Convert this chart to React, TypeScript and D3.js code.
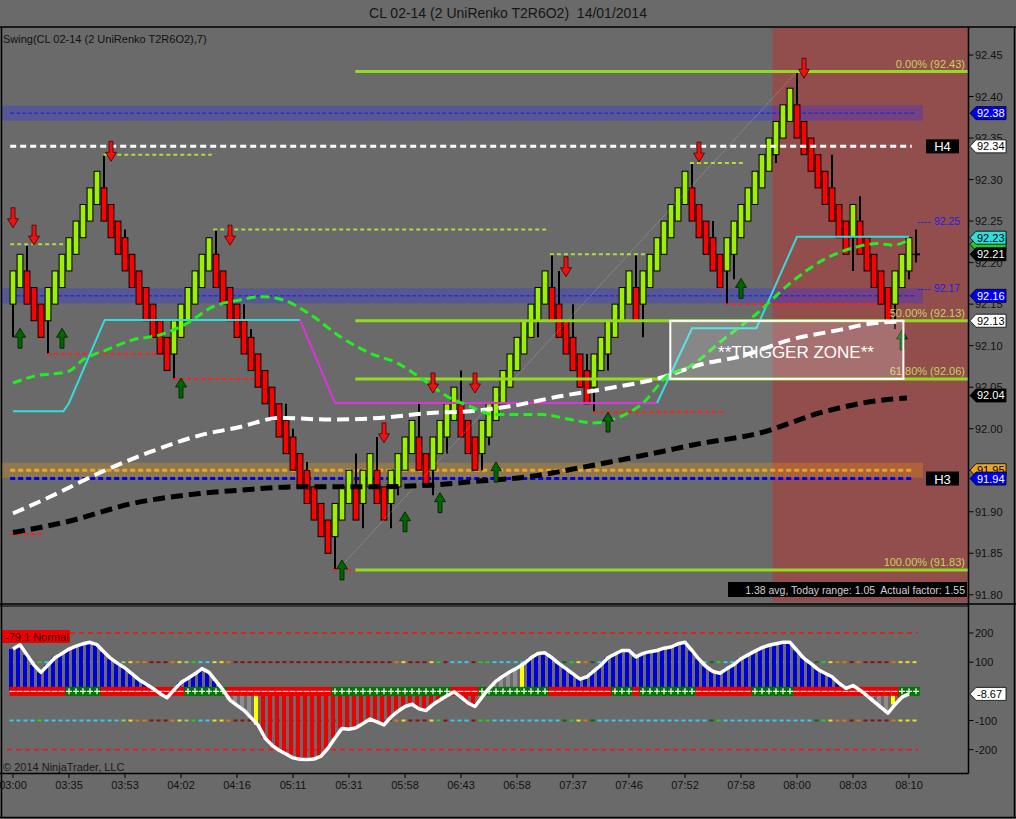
import * as d3 from 'd3'

const BG = '#6a6a6a'
const FONT = '"Liberation Sans", Arial, sans-serif'

// brick lows (each brick is 4 ticks tall), bar index = position
const brickLows = [
  92.15, 92.17, 92.15, 92.13, 92.11, 92.13, 92.15, 92.17, 92.19, 92.21,
  92.23, 92.25, 92.27, 92.25, 92.23, 92.21, 92.19, 92.17, 92.15, 92.13,
  92.11, 92.09, 92.07, 92.09, 92.11, 92.13, 92.15, 92.17, 92.19, 92.17,
  92.15, 92.13, 92.11, 92.09, 92.07, 92.05, 92.03, 92.01, 91.99, 91.97,
  91.95, 91.93, 91.91, 91.89, 91.87, 91.85, 91.87, 91.89, 91.91, 91.89,
  91.91, 91.93, 91.91, 91.89, 91.91, 91.93, 91.95, 91.97, 91.95, 91.93,
  91.95, 91.97, 91.99, 92.01, 91.99, 91.97, 91.95, 91.97, 91.99, 92.01,
  92.03, 92.05, 92.07, 92.09, 92.11, 92.13, 92.15, 92.13, 92.11, 92.09,
  92.07, 92.05, 92.03, 92.05, 92.07, 92.09, 92.11, 92.13, 92.15, 92.13,
  92.15, 92.17, 92.19, 92.21, 92.23, 92.25, 92.27, 92.25, 92.23, 92.21,
  92.19, 92.17, 92.19, 92.21, 92.23, 92.25, 92.27, 92.29, 92.31, 92.33,
  92.35, 92.37, 92.35, 92.33, 92.31, 92.29, 92.27, 92.25, 92.23, 92.21,
  92.23, 92.21, 92.19, 92.17, 92.15, 92.13, 92.15, 92.17, 92.19,
]
const BRICK = 0.04

// [bar, wick tip price]
const wickTips: [number, number][] = [
  [0, 92.11], [2, 92.22], [5, 92.09], [13, 92.33], [16, 92.24], [23, 92.06], [29, 92.24],
  [33, 92.15], [34, 92.12], [39, 92.03], [40, 92.0], [42, 91.96], [46, 91.83], [49, 91.97],
  [50, 91.88], [52, 91.99], [54, 91.88], [55, 91.92], [58, 92.03], [60, 91.92], [62, 91.97],
  [64, 92.07], [67, 91.95], [68, 91.98], [75, 92.11], [77, 92.21], [78, 92.19], [80, 92.15],
  [82, 92.09], [83, 92.02], [85, 92.07], [89, 92.21], [90, 92.11], [97, 92.32], [100, 92.25],
  [102, 92.15], [103, 92.18], [109, 92.32], [112, 92.43], [117, 92.33], [120, 92.19],
  [121, 92.28], [126, 92.12], [128, 92.18],
]
const formingBar = { bar: 129, low: 92.2, high: 92.24, close: 92.21 }

// swing lines [fromBar, toBar, price]
const swingHighs: [number, number, number][] = [
  [-0.4, 7.4, 92.222], [12.9, 28.4, 92.33], [28.6, 76.4, 92.24], [76.7, 90.6, 92.21], [96.7, 104.6, 92.32],
]
const swingLows: [number, number, number][] = [
  [-0.4, 4.4, 91.873], [4.9, 20.6, 92.09], [22.9, 34.6, 92.06], [45.7, 48.9, 91.83],
  [82.9, 101.4, 92.02], [101.7, 123.6, 92.15],
]
const downArrows: [number, number][] = [
  [0, 92.242], [3, 92.221], [14, 92.322], [31, 92.221], [53, 91.983], [60, 92.043],
  [66, 92.043], [79, 92.183], [98, 92.321], [113, 92.422],
]
const upArrows: [number, number][] = [
  [1, 92.121], [7, 92.121], [24, 92.061], [47, 91.842], [56, 91.9], [61, 91.923],
  [69, 91.96], [85, 92.02], [104, 92.181], [127, 92.119],
]

// trailing stop line
const trailUpA: [number, number][] = [[0, 92.021], [7.2, 92.021], [8, 92.031], [13.1, 92.131], [41, 92.131]]
const trailDown: [number, number][] = [[41, 92.131], [46, 92.031], [92, 92.031]]
const trailUpB: [number, number][] = [[92, 92.031], [97, 92.121], [106.2, 92.121], [112, 92.231], [128, 92.231]]

// moving averages [bar, price]
const emaFast: [number, number][] = [
  [0, 92.055], [2.9, 92.063], [7.9, 92.069], [10, 92.083], [13.4, 92.095], [17.1, 92.107],
  [21, 92.113], [24.9, 92.127], [28.6, 92.147], [32.4, 92.155], [35.6, 92.159], [38.6, 92.155],
  [42.9, 92.135], [46.7, 92.111], [51, 92.091], [54.9, 92.079], [58.6, 92.059], [62, 92.039],
  [65.3, 92.027], [68.6, 92.017], [75.7, 92.017], [79.6, 92.011], [82.9, 92.007], [86.3, 92.013],
  [90, 92.031], [93.4, 92.063], [96.7, 92.075], [101.4, 92.107], [106.3, 92.139], [111, 92.175],
  [115.7, 92.203], [120.6, 92.219], [123.4, 92.223], [125.7, 92.221], [127.9, 92.227],
]
const emaMid: [number, number][] = [
  [0, 91.898], [5.3, 91.918], [12.4, 91.947], [19.6, 91.972], [26.7, 91.992], [32.4, 92.002],
  [38.1, 92.013], [45.3, 92.011], [52.4, 92.013], [59.6, 92.019], [65.3, 92.021], [71, 92.027],
  [78.1, 92.039], [85.3, 92.049], [92.4, 92.061], [98.1, 92.077], [103.9, 92.087], [111, 92.107],
  [118.1, 92.119], [122.9, 92.127], [127.1, 92.129],
]
const emaSlow: [number, number][] = [
  [0, 91.875], [7.7, 91.888], [17.1, 91.91], [26.7, 91.922], [32.4, 91.926], [40.6, 91.93],
  [50, 91.93], [59.6, 91.932], [65.3, 91.936], [73.4, 91.942], [82.9, 91.956], [92.4, 91.972],
  [98.1, 91.982], [106.3, 91.994], [115.7, 92.02], [122.9, 92.033], [127.7, 92.037],
]

const fibLabels = ['0.00%', '50.00%', '61.80%', '100.00%']
const fibPrices = [92.43, 92.13, 92.06, 91.83]
const fibStartBar = 48.9
const fibAnchor: [number, number][] = [[46.4, 91.83], [112, 92.43]]

const bandPrices = [92.38, 92.16, 91.95]
const bandKinds = ['blue', 'blue', 'orange']
const h4Price = 92.34
const h3Price = 91.94
const pivotTexts: [number, string][] = [[92.25, '---- 92.25'], [92.17, '---- 92.17']]
const sessionStartBar = 108.5
const trigger = { from: 93.9, to: 127.2, top: 92.13, bottom: 92.06 }

const yTicks = [92.45, 92.4, 92.35, 92.3, 92.25, 92.2, 92.15, 92.1, 92.05, 92.0, 91.95, 91.9, 91.85, 91.8]
const timeLabels = ['03:00', '03:35', '03:53', '04:02', '04:16', '05:11', '05:31', '05:58', '06:43',
  '06:58', '07:37', '07:46', '07:52', '07:58', '08:00', '08:03', '08:10']

// price flags on the right axis [price, fill, text colour, label]
const flags: [number, string, string, string][] = [
  [92.38, '#0000ee', '#fff', '92.38'], [92.34, '#fff', '#000', '92.34'],
  [92.222, '#22cc22', '#000', ''], [92.23, '#33dddd', '#000', '92.23'],
  [92.21, '#000', '#fff', '92.21'], [92.16, '#0000ee', '#fff', '92.16'],
  [92.13, '#fff', '#000', '92.13'], [92.04, '#000', '#fff', '92.04'],
  [91.95, '#e8a628', '#000', '91.95'], [91.94, '#0000ee', '#fff', '91.94'],
]

// lower oscillator
const cci = [
  145, 160, 125, 90, 65, 90, 115, 130, 145, 155,
  163, 168, 160, 135, 112, 95, 80, 60, 40, 25,
  10, -8, -22, 5, 30, 45, 60, 78, 65, 35,
  5, -30, -48, -65, -90, -115, -160, -185, -202, -215,
  -228, -233, -234, -232, -222, -195, -160, -127, -130, -125,
  -110, -95, -105, -115, -88, -68, -52, -44, -60, -66,
  -45, -30, -15, -2, -20, -40, -52, -20, 10, 35,
  52, 67, 80, 95, 115, 130, 132, 115, 95, 78,
  60, 42, 50, 70, 90, 115, 128, 140, 140, 118,
  130, 136, 140, 148, 152, 163, 168, 140, 110, 85,
  68, 62, 78, 92, 112, 125, 138, 150, 158, 163,
  168, 168, 140, 113, 95, 75, 62, 50, 28, 10,
  20, 4, -15, -35, -55, -75, -45, -20, -8.67,
]
const histRuns: [number, number, string][] = [
  [0, 29, 'b'], [30, 34, 'n'], [35, 35, 'y'], [36, 66, 'r'], [67, 72, 'n'], [73, 73, 'y'],
  [74, 119, 'b'], [120, 125, 'n'], [126, 126, 'y'], [127, 128, 'r'],
]
const zeroRuns: [number, number, string][] = [
  [0, 7, 'r'], [8, 12, 'g'], [13, 24, 'r'], [25, 30, 'g'], [31, 45, 'r'], [46, 62, 'g'],
  [63, 66, 'r'], [67, 76, 'g'], [77, 85, 'r'], [86, 88, 'g'], [89, 89, 'r'], [90, 97, 'g'],
  [98, 105, 'r'], [106, 111, 'g'], [112, 126, 'r'], [127, 129, 'g'],
]
const levelRuns: [number, number, string][] = [
  [0, 3, 'c'], [4, 4, 'g'], [5, 15, 'c'], [16, 16, 'l'], [17, 17, 'y'], [18, 19, 'o'], [20, 22, 'r'],
  [23, 23, 'o'], [24, 24, 'y'], [25, 25, 'l'], [26, 26, 'g'], [27, 28, 'c'], [29, 30, 'y'], [31, 31, 'o'],
  [32, 54, 'r'], [55, 55, 'o'], [56, 56, 'y'], [57, 59, 'r'], [60, 60, 'y'], [61, 61, 'g'], [62, 62, 'r'],
  [63, 65, 'c'], [66, 66, 'r'], [67, 68, 'g'], [69, 78, 'c'], [79, 79, 'd'], [80, 80, 'g'], [81, 81, 'y'],
  [82, 82, 'o'], [83, 83, 'd'], [84, 99, 'c'], [100, 100, 'd'], [101, 101, 'g'], [102, 114, 'c'],
  [115, 115, 'd'], [116, 116, 'g'], [117, 117, 'y'], [118, 119, 'o'], [120, 120, 'r'], [121, 121, 'o'],
  [122, 125, 'r'], [126, 126, 'o'], [127, 129, 'y'],
]
const oscTicks = [200, 100, -100, -200]

const HIST_COL: Record<string, string> = { b: '#0000dd', r: '#ee0000', n: '#8c8c8c', y: '#ffff00' }
const LEVEL_COL: Record<string, string> = {
  c: '#33ccee', g: '#22cc22', l: '#99cc66', y: '#eedd22', o: '#dd7711', r: '#8a1010', d: '#116611',
}

function expand(runs: [number, number, string][]) {
  const out: { i: number; k: string }[] = []
  runs.forEach(([a, b, k]) => { for (let i = a; i <= b; i++) out.push({ i, k }) })
  return out
}

function arrowPath(cx: number, tip: number, s: number) {
  const p = [[cx - 2, tip - s * 20], [cx + 2, tip - s * 20], [cx + 2, tip - s * 9], [cx + 5.5, tip - s * 9],
    [cx, tip], [cx - 5.5, tip - s * 9], [cx - 2, tip - s * 9]]
  return 'M' + p.map((q) => q.join(',')).join('L') + 'Z'
}

function flagPath(yc: number) {
  return `M970,${yc} L976,${yc - 6.5} L1006,${yc - 6.5} L1006,${yc + 6.5} L976,${yc + 6.5} Z`
}

export default function App() {
  const x = d3.scaleLinear().domain([0, 128]).range([13, 909])
  const y = d3.scaleLinear().domain([91.8, 92.45]).range([594.8, 55])
  const yo = d3.scaleLinear().domain([-200, 200]).range([749.7, 633])
  const R = 968.5

  const straight = d3.line<[number, number]>().x((d) => x(d[0])).y((d) => y(d[1]))
  const smooth = d3.line<[number, number]>().x((d) => x(d[0])).y((d) => y(d[1])).curve(d3.curveMonotoneX)
  const oscLine = d3.line<number>().x((_, i) => x(i)).y((d) => yo(d)).curve(d3.curveLinear)

  const bricks = brickLows.map((lo, i) => ({ i, lo, hi: lo + BRICK, up: i === 0 || lo > brickLows[i - 1] }))
  const zero = yo(0)

  return (
    <svg width={1016} height={819} style={{ position: 'fixed', left: 0, top: 0, display: 'block' }}
      fontFamily={FONT}>
      <rect width={1016} height={819} fill={BG} />
      <text x={508} y={18} textAnchor="middle" fontSize={14} fill="#151515" style={{ whiteSpace: 'pre' }}>
        {'CL 02-14 (2 UniRenko T2R6O2)  14/01/2014'}
      </text>

      {/* session shading */}
      <rect x={x(sessionStartBar)} y={28} width={R - x(sessionStartBar)} height={574} fill="#ff0000" opacity={0.27} />

      {/* bands */}
      {bandPrices.map((p, k) => (
        <rect key={'b' + k} x={2} y={y(p) - 7.5} width={x(130) - 2} height={15}
          fill={bandKinds[k] === 'blue' ? '#2a2aff' : '#ffa500'} opacity={bandKinds[k] === 'blue' ? 0.3 : 0.25} />
      ))}
      {bandPrices.map((p, k) => bandKinds[k] === 'blue' ? (
        <line key={'bl' + k} x1={x(-0.4)} x2={x(129)} y1={y(p)} y2={y(p)} stroke="#1c1cd8" strokeWidth={1} strokeDasharray="4,2" />
      ) : (
        <line key={'bl' + k} x1={x(-0.4)} x2={x(128.4)} y1={y(p)} y2={y(p)} stroke="#e8a628" strokeWidth={3} strokeDasharray="5,3" />
      ))}
      <line x1={x(-0.4)} x2={x(128.4)} y1={y(h3Price)} y2={y(h3Price)} stroke="#0000ee" strokeWidth={3} strokeDasharray="5,3" />

      {/* wicks */}
      {wickTips.map(([i, p]) => {
        const b = bricks[i]
        const from = p > b.hi ? b.hi : b.lo
        return <line key={'w' + i} x1={x(i)} x2={x(i)} y1={y(from)} y2={y(p)} stroke="#000" strokeWidth={2} />
      })}
      <line x1={x(formingBar.bar)} x2={x(formingBar.bar)} y1={y(formingBar.low)} y2={y(formingBar.high)} stroke="#000" strokeWidth={2} />
      <line x1={x(formingBar.bar)} x2={x(formingBar.bar) + 4} y1={y(formingBar.close)} y2={y(formingBar.close)} stroke="#000" strokeWidth={2} />
      <line x1={x(formingBar.bar) - 4} x2={x(formingBar.bar)} y1={y(formingBar.close)} y2={y(formingBar.close)} stroke="#000" strokeWidth={1} />

      {/* bricks */}
      {bricks.map((b) => (
        <rect key={'k' + b.i} x={x(b.i) - 2.9} y={y(b.hi)} width={5.8} height={y(b.lo) - y(b.hi)}
          fill={b.up ? '#9cf000' : '#ff0000'} stroke="#000" strokeWidth={1} />
      ))}

      {/* fib anchor */}
      <path d={straight(fibAnchor)!} stroke="#c8c8c8" strokeOpacity={0.4} strokeWidth={1} fill="none" strokeDasharray="2,1" />

      {/* swing lines */}
      {swingHighs.map(([a, b, p], k) => (
        <line key={'sh' + k} x1={x(a)} x2={x(b)} y1={y(p)} y2={y(p)} stroke="#b0dc40" strokeWidth={2} strokeDasharray="4,3" />
      ))}
      {swingLows.map(([a, b, p], k) => (
        <line key={'sl' + k} x1={x(a)} x2={x(b)} y1={y(p)} y2={y(p)} stroke="#ff2020" strokeWidth={2} strokeDasharray="4,3" />
      ))}

      {/* fib levels */}
      {fibPrices.map((p, k) => (
        <g key={'f' + k}>
          <line x1={x(fibStartBar)} x2={R} y1={y(p)} y2={y(p)} stroke="#92dc1c" strokeWidth={3} />
          <text x={965} y={y(p) - 4} textAnchor="end" fontSize={11} fill="#c6d25c">
            {fibLabels[k]} ({p.toFixed(2)})
          </text>
        </g>
      ))}

      {/* H4 */}
      <line x1={x(-0.4)} x2={x(128.4)} y1={y(h4Price)} y2={y(h4Price)} stroke="#fff" strokeWidth={3} strokeDasharray="6,4" />

      {/* trail */}
      <path d={straight(trailUpA)!} stroke="#33dddd" strokeWidth={2} fill="none" />
      <path d={straight(trailDown)!} stroke="#dd33dd" strokeWidth={2} fill="none" />
      <path d={straight(trailUpB)!} stroke="#33dddd" strokeWidth={2} fill="none" />

      {/* averages */}
      <path d={smooth(emaSlow)!} stroke="#000" strokeWidth={5} strokeDasharray="12,6" fill="none" />
      <path d={smooth(emaMid)!} stroke="#fff" strokeWidth={4} strokeDasharray="12,6" fill="none" />
      <path d={smooth(emaFast)!} stroke="#22ee22" strokeWidth={3} strokeDasharray="9,5" fill="none" />

      {/* swing arrows */}
      {downArrows.map(([i, p]) => (
        <path key={'da' + i} d={arrowPath(x(i), y(p), 1)} fill="#ee1111" stroke="#400" strokeWidth={0.8} />
      ))}
      {upArrows.map(([i, p]) => (
        <path key={'ua' + i} d={arrowPath(x(i), y(p), -1)} fill="#006600" stroke="#001a00" strokeWidth={0.8} />
      ))}

      {/* trigger zone */}
      <rect x={x(trigger.from)} y={y(trigger.top)} width={x(trigger.to) - x(trigger.from)}
        height={y(trigger.bottom) - y(trigger.top)} fill="#fff" fillOpacity={0.2} stroke="#fff" strokeWidth={2} />
      <text x={796} y={358} textAnchor="middle" fontSize={17} fill="#fff">**TRIGGER ZONE**</text>

      {/* pivot texts and H labels */}
      {pivotTexts.map(([p, t]) => (
        <text key={t} x={917} y={y(p) + 4} fontSize={10.5} fill="#2323e0">{t}</text>
      ))}
      {[['H4', h4Price], ['H3', h3Price]].map(([t, p]) => (
        <g key={t as string}>
          <rect x={926} y={y(p as number) - 7} width={33} height={14} fill="#000" />
          <text x={942.5} y={y(p as number) + 5} textAnchor="middle" fontSize={13} fill="#fff">{t}</text>
        </g>
      ))}

      {/* info */}
      <rect x={728} y={582} width={239} height={15} fill="#000" />
      <text x={965} y={593.5} textAnchor="end" fontSize={10.5} fill="#d2d2d2" style={{ whiteSpace: 'pre' }}>
        {'1.38 avg, Today range: 1.05  Actual factor: 1.55'}
      </text>
      <text x={3} y={43} fontSize={11} fill="#111">Swing(CL 02-14 (2 UniRenko T2R6O2),7)</text>

      {/* ---------- lower panel ---------- */}
      {oscTicks.filter((v) => Math.abs(v) === 200).map((v) => (
        <line key={'r' + v} x1={7} x2={918} y1={yo(v)} y2={yo(v)} stroke="#dd2222" strokeWidth={2} strokeDasharray="5,4" />
      ))}
      {oscTicks.filter((v) => Math.abs(v) === 100).map((v) => (
        <g key={'l' + v}>
          {expand(levelRuns).map(({ i, k }) => (
            <line key={i} x1={x(i) - 3.5} x2={x(i) + 3.5} y1={yo(v)} y2={yo(v)} stroke={LEVEL_COL[k]} strokeWidth={2} strokeDasharray="4,3" />
          ))}
        </g>
      ))}
      {expand(histRuns).map(({ i, k }) => {
        const v = cci[i]
        return <rect key={'h' + i} x={x(i) - 4} width={4} y={Math.min(yo(v), zero)} height={Math.abs(yo(v) - zero)} fill={HIST_COL[k]} />
      })}
      {expand(zeroRuns).map(({ i, k }) => (
        <g key={'z' + i}>
          <rect x={x(i) - 3.5} width={7.2} y={zero - 4.5} height={9} fill={k === 'r' ? '#ee0000' : '#007700'} />
          {k === 'r' ? (
            <line x1={x(i) - 3.5} x2={x(i) + 2.5} y1={zero} y2={zero} stroke="#fff" strokeWidth={1} />
          ) : (
            <path d={`M${x(i) - 3},${zero}H${x(i) + 3}M${x(i)},${zero - 3}V${zero + 3}`} stroke="#fff" strokeWidth={1.2} />
          )}
        </g>
      ))}
      <path d={oscLine(cci)!} stroke="#fff" strokeWidth={3.5} fill="none" strokeLinejoin="round" />
      <rect x={2} y={630} width={68} height={13} fill="#ee0000" />
      <text x={5} y={641} fontSize={11} fill="#3a0000">-79.1 Normal</text>
      <text x={3} y={771} fontSize={11} fill="#1a1a1a">© 2014 NinjaTrader, LLC</text>

      {/* frames */}
      <line x1={0} x2={1016} y1={27} y2={27} stroke="#000" strokeWidth={1.5} />
      <line x1={0} x2={1016} y1={604} y2={604} stroke="#000" strokeWidth={1.5} />
      <line x1={0} x2={R} y1={606} y2={606} stroke="#000" strokeWidth={1} />
      <line x1={0} x2={R} y1={773.5} y2={773.5} stroke="#000" strokeWidth={1.5} />
      <line x1={0} x2={1016} y1={817.5} y2={817.5} stroke="#000" strokeWidth={1.5} />
      <line x1={1.5} x2={1.5} y1={27} y2={818} stroke="#000" strokeWidth={1.5} />
      <line x1={R} x2={R} y1={27} y2={773.5} stroke="#000" strokeWidth={1.5} />
      <line x1={1014.5} x2={1014.5} y1={27} y2={818} stroke="#000" strokeWidth={1.5} />

      {/* right axes */}
      {yTicks.map((v) => (
        <g key={'yt' + v}>
          <line x1={R} x2={R + 5} y1={y(v)} y2={y(v)} stroke="#000" />
          <text x={975} y={y(v) + 4} fontSize={11} fill="#111">{v.toFixed(2)}</text>
        </g>
      ))}
      {oscTicks.map((v) => (
        <g key={'ot' + v}>
          <line x1={R} x2={R + 5} y1={yo(v)} y2={yo(v)} stroke="#000" />
          <text x={975} y={yo(v) + 4} fontSize={11} fill="#111">{v}</text>
        </g>
      ))}
      {flags.map(([p, f, t, label], k) => (
        <g key={'fl' + k}>
          <path d={flagPath(y(p))} fill={f} stroke="#000" strokeWidth={0.8} />
          {label && <text x={977} y={y(p) + 4} fontSize={11} fill={t}>{label}</text>}
        </g>
      ))}
      <path d={flagPath(yo(-8.67))} fill="#fff" stroke="#000" strokeWidth={0.8} />
      <text x={977} y={yo(-8.67) + 4} fontSize={11} fill="#000">-8.67</text>

      {/* time axis */}
      {timeLabels.map((t, k) => (
        <g key={t}>
          <line x1={x(k * 8)} x2={x(k * 8)} y1={773.5} y2={778} stroke="#000" />
          <text x={x(k * 8)} y={789} textAnchor="middle" fontSize={11} fill="#111">{t}</text>
        </g>
      ))}
    </svg>
  )
}
